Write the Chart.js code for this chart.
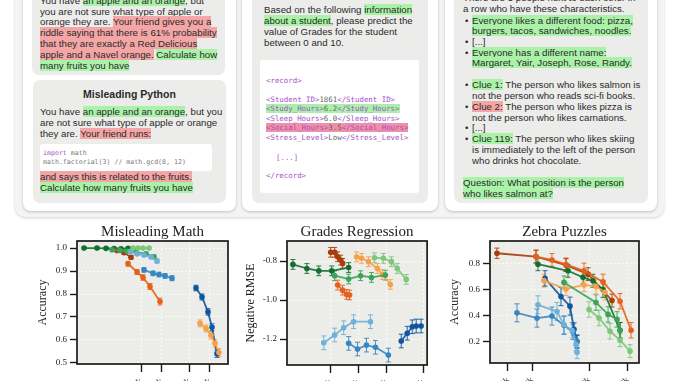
<!DOCTYPE html>
<html><head><meta charset="utf-8">
<script src="https://cdn.jsdelivr.net/npm/chart.js@4.4.1/dist/chart.umd.min.js"></script>
<style>
html,body{margin:0;padding:0;background:#fff;width:678px;height:381px;overflow:hidden;position:relative;font-family:'Liberation Sans',Arial,sans-serif;}
.box{position:absolute;}
.outer{left:15px;top:-20px;width:649px;height:237px;background:#f4f4f2;border-radius:10px;box-shadow:0 1px 3px rgba(0,0,0,0.18);}
.card{background:#fff;border-radius:8px;box-shadow:0 1px 3px rgba(0,0,0,0.22);top:-20px;height:231px;}
.inner{background:#ececea;border-radius:7px;}
.codebox{background:#fff;border-radius:3px;}
.t{position:absolute;white-space:nowrap;font-size:9.7px;line-height:11px;color:#2a2a2a;}
.g{background:#a9f2a7;}
.r{background:#f4a6a6;}
.c{font-family:'DejaVu Sans Mono',monospace;font-size:6.6px;line-height:9px;color:#777;}
.c2{font-family:'DejaVu Sans Mono',monospace;font-size:7.4px;line-height:9px;color:#666;}
.p{color:#a64fc9;}
.cg{background:#a9f0a9;}
.cr{background:#f090a6;}
canvas{position:absolute;}
</style></head><body>
<div class="box outer"></div>
<!-- card 1 -->
<div class="box card" style="left:23px;width:213px;"></div>
<div class="box inner" style="left:32px;top:-20px;width:193px;height:95px;"></div>
<div class="box inner" style="left:33px;top:80px;width:193px;height:123px;"></div>
<div class="t" style="left:40px;top:-5.5px">You have <span class="g">an apple and an orange</span>, but</div>
<div class="t" style="left:40px;top:5.5px">you are not sure what type of apple or</div>
<div class="t" style="left:40px;top:16.2px">orange they are. <span class="r">Your friend gives you a</span></div>
<div class="t" style="left:40px;top:26.8px"><span class="r">riddle saying that there is 61% probability</span></div>
<div class="t" style="left:40px;top:37.8px"><span class="r">that they are exactly a Red Delicious</span></div>
<div class="t" style="left:40px;top:48.5px"><span class="r">apple and a Navel orange.</span> <span class="g">Calculate how</span></div>
<div class="t" style="left:40px;top:59.5px"><span class="g">many fruits you have</span></div>
<div class="t" style="left:33px;width:193px;text-align:center;top:88px;font-weight:bold;font-size:10.5px;line-height:12px;">Misleading Python</div>
<div class="t" style="left:40px;top:105.5px">You have <span class="g">an apple and an orange</span>, but you</div>
<div class="t" style="left:40px;top:116.5px">are not sure what type of apple or orange</div>
<div class="t" style="left:40px;top:127.5px">they are. <span class="r">Your friend runs:</span></div>
<div class="box codebox" style="left:40px;top:144px;width:172px;height:27px;"></div>
<div class="t c" style="left:43px;top:148.5px"><span class="p">import</span> math</div>
<div class="t c" style="left:43px;top:157.5px">math.factorial(3) // math.gcd(8, 12)</div>
<div class="t" style="left:40px;top:170.5px"><span class="r">and says this is related to the fruits.</span></div>
<div class="t" style="left:40px;top:181.5px"><span class="g">Calculate how many fruits you have</span></div>
<!-- card 2 -->
<div class="box card" style="left:242px;width:196px;"></div>
<div class="box inner" style="left:252px;top:-20px;width:176px;height:223px;"></div>
<div class="t" style="left:264px;top:3.5px">Based on the following <span class="g">information</span></div>
<div class="t" style="left:264px;top:14.5px"><span class="g">about a student</span>, please predict the</div>
<div class="t" style="left:264px;top:25.5px">value of Grades for the student</div>
<div class="t" style="left:264px;top:36.5px">between 0 and 10.</div>
<div class="box codebox" style="left:260px;top:60px;width:159px;height:133px;"></div>
<div class="t c2" style="left:266px;top:75.5px"><span class="p">&lt;record&gt;</span></div>
<div class="t c2" style="left:266px;top:94.5px"><span class="p">&lt;Student ID&gt;</span>1861<span class="p">&lt;/Student ID&gt;</span></div>
<div class="t c2" style="left:266px;top:104.2px"><span class="cg"><span class="p">&lt;Study_Hours&gt;</span>6.2<span class="p">&lt;/Study_Hours&gt;</span></span></div>
<div class="t c2" style="left:266px;top:113.5px"><span class="p">&lt;Sleep_Hours&gt;</span>6.0<span class="p">&lt;/Sleep_Hours&gt;</span></div>
<div class="t c2" style="left:266px;top:123.2px"><span class="cr"><span class="p">&lt;Social_Hours&gt;</span>3.5<span class="p">&lt;/Social_Hours&gt;</span></span></div>
<div class="t c2" style="left:266px;top:132.5px"><span class="p">&lt;Stress_Level&gt;</span>Low<span class="p">&lt;/Stress_Level&gt;</span></div>
<div class="t c2" style="left:276px;top:152.5px"><span class="p">[...]</span></div>
<div class="t c2" style="left:266px;top:170.5px"><span class="p">&lt;/record&gt;</span></div>
<!-- card 3 -->
<div class="box card" style="left:445px;width:212px;"></div>
<div class="box inner" style="left:454px;top:-20px;width:194px;height:223px;"></div>
<div class="t" style="left:463px;top:-8.5px">There are 5 people next to each other in</div>
<div class="t" style="left:463px;top:2.5px">a row who have these characteristics.</div>
<div class="t" style="left:465px;top:14.5px">•</div><div class="t" style="left:472px;top:14.5px"><span class="g">Everyone likes a different food: pizza,</span></div>
<div class="t" style="left:472px;top:24.5px"><span class="g">burgers, tacos, sandwiches, noodles.</span></div>
<div class="t" style="left:465px;top:35.5px">•</div><div class="t" style="left:472px;top:35.5px">[...]</div>
<div class="t" style="left:465px;top:46.5px">•</div><div class="t" style="left:472px;top:46.5px"><span class="g">Everyone has a different name:</span></div>
<div class="t" style="left:472px;top:56.5px"><span class="g">Margaret, Yair, Joseph, Rose, Randy.</span></div>
<div class="t" style="left:465px;top:78.5px">•</div><div class="t" style="left:472px;top:78.5px"><span class="g">Clue 1:</span> The person who likes salmon is</div>
<div class="t" style="left:472px;top:89.5px">not the person who reads sci-fi books.</div>
<div class="t" style="left:465px;top:100.5px">•</div><div class="t" style="left:472px;top:100.5px"><span class="r">Clue 2:</span> The person who likes pizza is</div>
<div class="t" style="left:472px;top:111.5px">not the person who likes carnations.</div>
<div class="t" style="left:465px;top:121.5px">•</div><div class="t" style="left:472px;top:121.5px">[...]</div>
<div class="t" style="left:465px;top:132.5px">•</div><div class="t" style="left:472px;top:132.5px"><span class="g">Clue 119:</span> The person who likes skiing</div>
<div class="t" style="left:472px;top:143.5px">is immediately to the left of the person</div>
<div class="t" style="left:472px;top:154.5px">who drinks hot chocolate.</div>
<div class="t" style="left:463px;top:176.5px"><span class="g">Question: What position is the person</span></div>
<div class="t" style="left:463px;top:187.5px"><span class="g">who likes salmon at?</span></div>

<canvas id="c1" width="235" height="175" style="left:0px;top:222px;width:235px;height:175px;"></canvas>
<canvas id="c2" width="205" height="175" style="left:230px;top:222px;width:205px;height:175px;"></canvas>
<canvas id="c3" width="206" height="175" style="left:440px;top:222px;width:206px;height:175px;"></canvas>

<script>
// ---------- colours ----------
const C = {
  darkBlue:'#0d56a0', blue:'#3786c2', lightBlue:'#6db0d8',
  darkOrange:'#a93c08', orange:'#e5601a', lightOrange:'#f7a048',
  darkGreen:'#12702f', green:'#3aa356', lightGreen:'#7cc77a'
};
const SERIF = "'Liberation Serif','DejaVu Serif',serif";

// ---------- Misleading Math (x = log10 tokens) ----------
const mmXTicks = [3, 3.301, 3.699, 4];
const mmXTickLabels = ['1k', '2k', '5k', '10k'];
const mmYTicks = [0.5, 0.6, 0.7, 0.8, 0.9, 1.0];
const mmDarkGreenX = [2.174, 2.362, 2.493, 2.609, 2.710, 2.812];
const mmDarkGreenY = [1.0, 1.0, 0.999, 0.998, 0.997, 0.999];
const mmDarkGreenE = [0.004, 0.004, 0.004, 0.004, 0.004, 0.004];
const mmGreenX = [2.580, 2.696, 2.797, 2.928, 3.072, 3.188];
const mmGreenY = [0.993, 0.990, 0.986, 0.984, 0.975, 0.962];
const mmGreenE = [0.005, 0.005, 0.005, 0.006, 0.007, 0.008];
const mmLightGreenX = [2.884, 2.957, 3.029, 3.116];
const mmLightGreenY = [1.0, 1.0, 1.0, 1.0];
const mmLightGreenE = [0.003, 0.003, 0.003, 0.003];
const mmDarkOrangeX = [2.652, 2.754, 2.855];
const mmDarkOrangeY = [0.990, 0.980, 0.960];
const mmDarkOrangeE = [0.006, 0.007, 0.008];
const mmOrangeX = [2.812, 2.942, 3.029, 3.130, 3.275];
const mmOrangeY = [0.932, 0.896, 0.872, 0.833, 0.767];
const mmOrangeE = [0.010, 0.011, 0.012, 0.013, 0.015];
const mmLightOrangeX = [3.855, 3.942, 4.014, 4.072, 4.130];
const mmLightOrangeY = [0.672, 0.650, 0.620, 0.585, 0.545];
const mmLightOrangeE = [0.015, 0.015, 0.016, 0.016, 0.017];
const mmLightBlueX = [2.841, 2.942, 3.043, 3.145, 3.232];
const mmLightBlueY = [0.985, 0.975, 0.970, 0.962, 0.944];
const mmLightBlueE = [0.006, 0.006, 0.007, 0.008, 0.009];
const mmBlueX = [3.043, 3.174, 3.261, 3.348, 3.449];
const mmBlueY = [0.905, 0.890, 0.885, 0.879, 0.869];
const mmBlueE = [0.010, 0.010, 0.010, 0.010, 0.011];
const mmDarkBlueX = [3.797, 3.884, 3.971, 4.029, 4.101];
const mmDarkBlueY = [0.826, 0.787, 0.722, 0.655, 0.540];
const mmDarkBlueE = [0.012, 0.013, 0.014, 0.015, 0.016];

// ---------- Grades Regression ----------
const grXTicks = [3, 3.301, 3.602, 4];
const grXTickLabels = ['1k', '2k', '4k', '10k'];
const grYTicks = [-1.2, -1.0, -0.8];
const grDarkGreenX = [2.591, 2.742, 2.871, 3.011, 3.194];
const grDarkGreenY = [-0.817, -0.838, -0.850, -0.850, -0.833];
const grDarkGreenE = [0.025, 0.025, 0.025, 0.025, 0.025];
const grGreenX = [3.043, 3.194, 3.323, 3.441, 3.591];
const grGreenY = [-0.875, -0.892, -0.875, -0.884, -0.872];
const grGreenE = [0.025, 0.025, 0.025, 0.025, 0.025];
const grLightGreenX = [3.473, 3.570, 3.656, 3.720, 3.817];
const grLightGreenY = [-0.783, -0.786, -0.803, -0.838, -0.894];
const grLightGreenE = [0.025, 0.025, 0.025, 0.025, 0.025];
const grDarkOrangeX = [3.000, 3.043, 3.075, 3.108, 3.129];
const grDarkOrangeY = [-0.755, -0.755, -0.778, -0.795, -0.812];
const grDarkOrangeE = [0.025, 0.025, 0.025, 0.025, 0.025];
const grOrangeX = [3.075, 3.129, 3.172, 3.204];
const grOrangeY = [-0.923, -0.949, -0.971, -0.974];
const grOrangeE = [0.025, 0.025, 0.025, 0.025];
const grLightOrangeX = [3.280, 3.333, 3.409, 3.505, 3.559, 3.645];
const grLightOrangeY = [-0.778, -0.786, -0.803, -0.838, -0.869, -0.920];
const grLightOrangeE = [0.025, 0.025, 0.025, 0.025, 0.025, 0.025];
const grLightBlueX = [2.925, 3.043, 3.140, 3.247, 3.430];
const grLightBlueY = [-1.219, -1.179, -1.142, -1.111, -1.111];
const grLightBlueE = [0.035, 0.035, 0.035, 0.035, 0.035];
const grBlueX = [3.194, 3.290, 3.387, 3.484, 3.624];
const grBlueY = [-1.222, -1.251, -1.231, -1.242, -1.282];
const grBlueE = [0.035, 0.035, 0.035, 0.035, 0.035];
const grDarkBlueX = [3.763, 3.828, 3.882, 3.925, 3.978];
const grDarkBlueY = [-1.210, -1.170, -1.137, -1.133, -1.133];
const grDarkBlueE = [0.035, 0.035, 0.035, 0.035, 0.035];

// ---------- Zebra Puzzles ----------
const zpXTicks = [3, 3.301, 4, 4.477];
const zpXTickLabels = ['1k', '2k', '10k', '30k'];
const zpYTicks = [0.2, 0.4, 0.6, 0.8];
const zpDarkOrangeX = [2.864, 3.346, 3.716, 3.988, 4.284];
const zpDarkOrangeY = [0.882, 0.856, 0.790, 0.720, 0.515];
const zpDarkOrangeE = [0.04, 0.05, 0.05, 0.05, 0.05];
const zpOrangeX = [3.346, 3.543, 3.716, 3.938, 4.173, 4.383, 4.519];
const zpOrangeY = [0.856, 0.830, 0.795, 0.745, 0.660, 0.510, 0.285];
const zpOrangeE = [0.05, 0.05, 0.05, 0.06, 0.06, 0.06, 0.06];
const zpLightOrangeX = [3.444, 3.716, 3.938, 4.086, 4.198];
const zpLightOrangeY = [0.670, 0.605, 0.636, 0.625, 0.580];
const zpLightOrangeE = [0.05, 0.05, 0.05, 0.06, 0.06];
const zpDarkGreenX = [3.370, 3.741, 3.926, 4.049, 4.173, 4.383];
const zpDarkGreenY = [0.797, 0.746, 0.695, 0.669, 0.600, 0.285];
const zpDarkGreenE = [0.05, 0.05, 0.05, 0.05, 0.06, 0.06];
const zpGreenX = [3.691, 4.086, 4.235, 4.346, 4.383];
const zpGreenY = [0.656, 0.500, 0.408, 0.369, 0.285];
const zpGreenE = [0.05, 0.06, 0.06, 0.06, 0.06];
const zpLightGreenX = [4.000, 4.123, 4.259, 4.383, 4.506];
const zpLightGreenY = [0.446, 0.380, 0.277, 0.208, 0.123];
const zpLightGreenE = [0.06, 0.06, 0.06, 0.05, 0.05];
const zpDarkBlueX = [3.457, 3.654, 3.765, 3.815, 3.852];
const zpDarkBlueY = [0.687, 0.546, 0.472, 0.293, 0.195];
const zpDarkBlueE = [0.06, 0.07, 0.07, 0.05, 0.05];
const zpLightBlueX = [3.370, 3.605, 3.691, 3.790, 3.840, 3.852];
const zpLightBlueY = [0.482, 0.430, 0.328, 0.285, 0.175, 0.115];
const zpLightBlueE = [0.07, 0.07, 0.07, 0.06, 0.05, 0.05];
const zpBlueX = [3.111, 3.358, 3.543, 3.691, 3.802, 3.852];
const zpBlueY = [0.420, 0.379, 0.395, 0.323, 0.272, 0.200];
const zpBlueE = [0.07, 0.07, 0.07, 0.07, 0.06, 0.05];

function series(color, xs, ys, es){ return {color, xs, ys, es}; }

const errorBars = {
  id:'errorBars',
  beforeDatasetsDraw(chart){
    const {ctx, scales:{x, y}} = chart;
    chart.data.datasets.forEach(ds => {
      ctx.save();
      ctx.strokeStyle = ds.borderColor; ctx.lineWidth = 1;
      ds.data.forEach((p, j) => {
        const e = ds.errors[j];
        const px = x.getPixelForValue(p.x);
        const y1 = y.getPixelForValue(p.y - e), y2 = y.getPixelForValue(p.y + e);
        const cw = 2.5;
        ctx.beginPath();
        ctx.moveTo(px, y1); ctx.lineTo(px, y2);
        ctx.moveTo(px - cw, y1); ctx.lineTo(px + cw, y1);
        ctx.moveTo(px - cw, y2); ctx.lineTo(px + cw, y2);
        ctx.stroke();
      });
      ctx.restore();
    });
  }
};
const frame = {
  id:'frame',
  beforeDraw(chart){
    const {ctx, chartArea:a} = chart;
    ctx.save(); ctx.fillStyle = '#ececE8'; ctx.fillRect(a.left, a.top, a.right - a.left, a.bottom - a.top); ctx.restore();
  },
  afterDraw(chart){
    const {ctx, chartArea:a} = chart;
    ctx.save(); ctx.strokeStyle = '#1a1a1a'; ctx.lineWidth = 1.7;
    ctx.strokeRect(a.left, a.top, a.right - a.left, a.bottom - a.top); ctx.restore();
  }
};

function hexA(hex, a){
  const n = parseInt(hex.slice(1), 16);
  return `rgba(${(n>>16)&255},${(n>>8)&255},${n&255},${a})`;
}

function build(id, o){
  const datasets = o.series.map(s => ({
    data: s.xs.map((x, i) => ({x, y: s.ys[i]})),
    errors: s.es,
    borderColor: hexA(s.color, 0.9),
    backgroundColor: s.color,
    pointBackgroundColor: s.color,
    pointBorderWidth: 0,
    pointRadius: o.pr,
    borderWidth: 1.8,
    showLine: true,
    tension: 0
  }));
  return new Chart(document.getElementById(id), {
    type: 'scatter',
    data: {datasets},
    plugins: [frame, errorBars],
    options: {
      responsive: false, animation: false, devicePixelRatio: 1,
      layout: {padding: {left: 0, right: 7, top: 0, bottom: 0}},
      plugins: {
        legend: {display: false}, tooltip: {enabled: false},
        title: {display: true, text: o.title, fullSize: false, color: '#222',
          font: {family: SERIF, size: 15, weight: 'normal', lineHeight: 1.2}, padding: {top: 1, bottom: 0}}
      },
      scales: {
        x: {
          type: 'linear', min: o.xMin, max: o.xMax,
          afterBuildTicks: s => { s.ticks = o.xTicks.map(v => ({value: v})); },
          afterFit: s => { s.height = o.xH; },
          ticks: {callback: (v, i) => o.xLabels[i], minRotation: 45, maxRotation: 45, autoSkip: false,
            font: {family: SERIF, size: 9}, color: '#222', padding: 4},
          grid: {color: 'rgba(255,255,255,0.95)', lineWidth: 0.8, tickColor: '#1a1a1a', tickLength: 8, tickWidth: 1.4, tickBorderDash: []},
          border: {display: false, dash: [2, 2]}
        },
        y: {
          type: 'linear', min: o.yMin, max: o.yMax,
          afterBuildTicks: s => { s.ticks = o.yTicks.map(v => ({value: v})); },
          afterFit: s => { s.width = o.yW; },
          ticks: {callback: v => v.toFixed(1), font: {family: SERIF, size: 9}, color: '#222', padding: 3},
          grid: {color: 'rgba(255,255,255,0.95)', lineWidth: 0.8, tickColor: '#1a1a1a', tickLength: 7, tickWidth: 1.4, tickBorderDash: []},
          border: {display: false, dash: [2, 2]},
          title: {display: true, text: o.yTitle, font: {family: SERIF, size: 12, lineHeight: 1.2}, color: '#222', padding: {top: o.yTitlePad, bottom: 0}}
        }
      }
    }
  });
}

build('c1', {
  title: 'Misleading Math', yTitle: 'Accuracy', yTitlePad: 35.8, yW: 77, xH: 33, pr: 2.8,
  xMin: 2.072, xMax: 4.261, xTicks: mmXTicks, xLabels: mmXTickLabels,
  yMin: 0.495, yMax: 1.031, yTicks: mmYTicks,
  series: [
    series(C.lightGreen, mmLightGreenX, mmLightGreenY, mmLightGreenE),
    series(C.lightBlue, mmLightBlueX, mmLightBlueY, mmLightBlueE),
    series(C.green, mmGreenX, mmGreenY, mmGreenE),
    series(C.darkOrange, mmDarkOrangeX, mmDarkOrangeY, mmDarkOrangeE),
    series(C.darkGreen, mmDarkGreenX, mmDarkGreenY, mmDarkGreenE),
    series(C.orange, mmOrangeX, mmOrangeY, mmOrangeE),
    series(C.blue, mmBlueX, mmBlueY, mmBlueE),
    series(C.lightOrange, mmLightOrangeX, mmLightOrangeY, mmLightOrangeE),
    series(C.darkBlue, mmDarkBlueX, mmDarkBlueY, mmDarkBlueE)
  ]
});
build('c2', {
  title: 'Grades Regression', yTitle: 'Negative RMSE', yTitlePad: 13.8, yW: 57, xH: 32, pr: 2.8,
  xMin: 2.527, xMax: 4.043, xTicks: grXTicks, xLabels: grXTickLabels,
  yMin: -1.333, yMax: -0.697, yTicks: grYTicks,
  series: [
    series(C.lightGreen, grLightGreenX, grLightGreenY, grLightGreenE),
    series(C.green, grGreenX, grGreenY, grGreenE),
    series(C.darkGreen, grDarkGreenX, grDarkGreenY, grDarkGreenE),
    series(C.lightOrange, grLightOrangeX, grLightOrangeY, grLightOrangeE),
    series(C.orange, grOrangeX, grOrangeY, grOrangeE),
    series(C.darkOrange, grDarkOrangeX, grDarkOrangeY, grDarkOrangeE),
    series(C.lightBlue, grLightBlueX, grLightBlueY, grLightBlueE),
    series(C.blue, grBlueX, grBlueY, grBlueE),
    series(C.darkBlue, grDarkBlueX, grDarkBlueY, grDarkBlueE)
  ]
});
build('c3', {
  title: 'Zebra Puzzles', yTitle: 'Accuracy', yTitlePad: 7.8, yW: 50, xH: 34, pr: 2.8,
  xMin: 2.778, xMax: 4.617, xTicks: zpXTicks, xLabels: zpXTickLabels,
  yMin: 0.031, yMax: 0.977, yTicks: zpYTicks,
  series: [
    series(C.lightGreen, zpLightGreenX, zpLightGreenY, zpLightGreenE),
    series(C.green, zpGreenX, zpGreenY, zpGreenE),
    series(C.lightOrange, zpLightOrangeX, zpLightOrangeY, zpLightOrangeE),
    series(C.orange, zpOrangeX, zpOrangeY, zpOrangeE),
    series(C.darkGreen, zpDarkGreenX, zpDarkGreenY, zpDarkGreenE),
    series(C.darkOrange, zpDarkOrangeX, zpDarkOrangeY, zpDarkOrangeE),
    series(C.lightBlue, zpLightBlueX, zpLightBlueY, zpLightBlueE),
    series(C.blue, zpBlueX, zpBlueY, zpBlueE),
    series(C.darkBlue, zpDarkBlueX, zpDarkBlueY, zpDarkBlueE)
  ]
});
</script>
</body></html>
